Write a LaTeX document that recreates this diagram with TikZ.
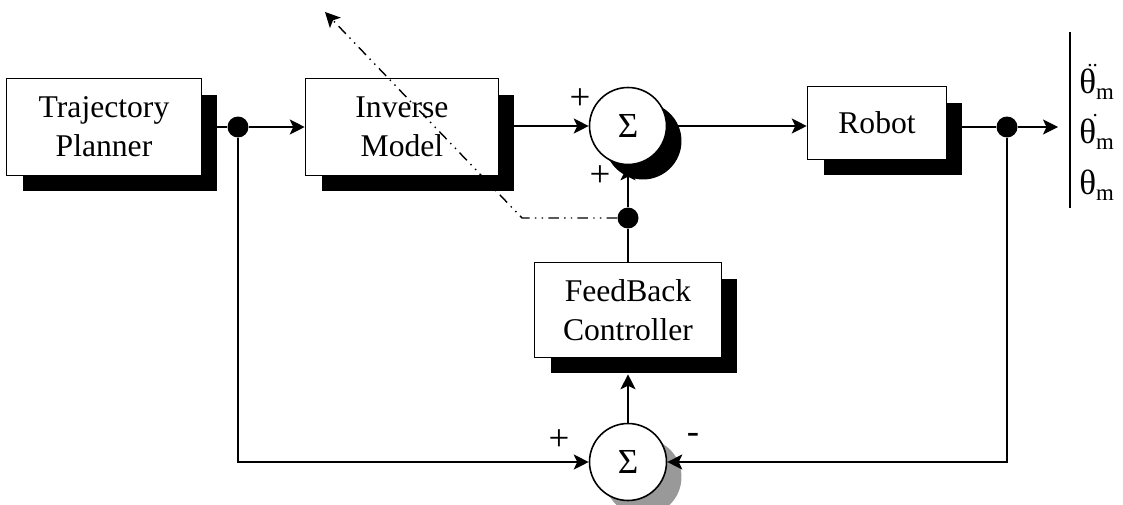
\documentclass[tikz,border=0pt]{standalone}
\usepackage{fontspec}
\setmainfont{Liberation Serif}
\usepackage{tikz}
\usetikzlibrary{shadows,arrows.meta}

\tikzset{
  block/.style={draw, fill=white, line width=0.9pt, align=center,
    font=\fontsize{18}{22}\selectfont,
    drop shadow={shadow xshift=0.32cm, shadow yshift=-0.32cm, fill=black, opacity=1}},
  sumnode/.style={draw, circle, fill=white, line width=0.9pt, minimum size=1.54cm,
    inner sep=0pt, font=\fontsize{20}{22}\selectfont},
  dotnode/.style={circle, fill=black, minimum size=0.42cm, inner sep=0pt},
  sign/.style={font=\fontsize{21}{22}\selectfont},
  wire/.style={line width=0.8pt},
  arr/.style={wire, -{Stealth[length=0.3cm, width=0.3cm, inset=0.07cm]}},
  dashdot/.style={line width=0.8pt,
    dash pattern=on 6pt off 3pt on 0.8pt off 3pt on 0.8pt off 3pt},
  outlabel/.style={anchor=west, inner sep=0pt, font=\fontsize{20}{22}\selectfont}
}
\newcommand{\thm}[1]{θ\makebox[0pt][r]{\smash{\raisebox{0.78em}{\fontsize{12}{12}\selectfont #1}}\hspace{-0.05em}}\textsubscript{\fontsize{13}{13}\selectfont m}}

\begin{document}
\begin{tikzpicture}[x=0.02cm,y=-0.02cm]
\useasboundingbox (0,0) rectangle (1123,504);

% blocks
\node[block, minimum width=3.9cm, minimum height=1.94cm] (traj) at (104,127) {Trajectory\\Planner};
\node[block, minimum width=3.86cm, minimum height=1.94cm] (inv) at (402,127) {Inverse\\Model};
\node[block, minimum width=2.78cm, minimum height=1.46cm] (robot) at (877,123) {Robot};
\node[block, minimum width=3.74cm, minimum height=1.9cm] (fb) at (628,310) {FeedBack\\Controller};

% summing junctions
\node[sumnode, drop shadow={shadow xshift=0.3cm, shadow yshift=-0.3cm, fill=black, opacity=1}] (sumA) at (628,126) {Σ};
\node[sumnode, drop shadow={shadow xshift=0.3cm, shadow yshift=-0.3cm, fill=black!40, opacity=1}] (sumB) at (628,462) {Σ};

% branch points
\node[dotnode] (dotA) at (238,127) {};
\node[dotnode] (dotB) at (1007,127) {};
\node[dotnode] (dotC) at (628,218) {};

\coordinate (out) at (1058,127);
\coordinate (bartop) at (1070,32);
\coordinate (barbot) at (1070,208);
\coordinate (bend) at (522,218);
\coordinate (tip) at (325,12);

% signs
\node[sign] (pA) at (580,99) {+};
\node[sign] (pB) at (600,176) {+};
\node[sign] (pC) at (559,440) {+};
\node[sign] (mC) at (693,438) {-};

% forward path
\draw[wire] (traj.east |- dotA) -- (dotA);
\draw[arr] (dotA) -- (inv.west |- dotA);
\draw[arr] (inv.east |- sumA.west) -- (sumA.west);
\draw[arr] (sumA.east) -- (robot.west |- sumA.east);
\draw[wire] (robot.east |- dotB) -- (dotB);
\draw[arr] (dotB) -- (out);
\draw[wire] (bartop) -- (barbot);

% feedback path
\draw[arr] (dotA) |- (sumB.west);
\draw[arr] (dotB) |- (sumB.east);
\draw[arr] (sumB.north) -- ([yshift=-0.32cm]fb.south);
\draw[wire] (fb.north) -- (dotC);
\draw[arr] (dotC) -- (sumA.south);
\draw[dashdot, -{Stealth[length=0.3cm, width=0.3cm, inset=0.07cm]}] (dotC) -- (bend) -- (tip);

% outputs
\node[outlabel] (acc) at (1079,84) {\thm{..}};
\node[outlabel] (vel) at (1079,134) {\thm{.}};
\node[outlabel] (pos) at (1079,185) {\thm{}};
\end{tikzpicture}
\end{document}
